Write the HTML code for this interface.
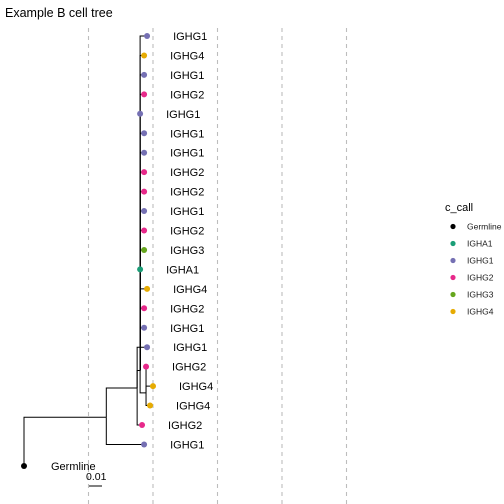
<!DOCTYPE html>
<html><head><meta charset="utf-8"><style>
body{margin:0;background:#fff}
svg{display:block;font-family:"Liberation Sans",Arial,sans-serif}
</style></head><body>
<svg id="chart" width="504" height="504" viewBox="0 0 504 504" xmlns="http://www.w3.org/2000/svg">
<text x="5" y="17" font-size="12.5" fill="#000">Example B cell tree</text>
<g id="grid"></g><g id="edges"></g><g id="tips"></g><g id="legend"></g>
<g>
<line x1="89" y1="486" x2="102" y2="486" stroke="#000" stroke-width="1"/>
<text x="86" y="480" font-size="10.5" fill="#000">0.01</text>
</g>
</svg>
<script>
// tip data (top to bottom)
const tipLabels=["IGHG1","IGHG4","IGHG1","IGHG2","IGHG1","IGHG1","IGHG1","IGHG2","IGHG2","IGHG1","IGHG2","IGHG3","IGHA1","IGHG4","IGHG2","IGHG1","IGHG1","IGHG2","IGHG4","IGHG4","IGHG2","IGHG1"];
const tipDepth=[0.0954,0.0931,0.0931,0.0931,0.0900,0.0931,0.0931,0.0931,0.0931,0.0931,0.0931,0.0931,0.0900,0.0954,0.0931,0.0931,0.0954,0.0946,0.1000,0.0977,0.0915,0.0931];
const tipParent=[3,3,3,3,3,3,3,3,3,3,3,3,3,3,3,3,2,4,4,4,2,1];
// internal nodes: 0 germline root
const nodeDepth=[0,0.0638,0.0877,0.0900,0.0946];
const nodeParent=[-1,0,1,2,3];
const nodeRow=[21.1,19.6,18.1,17.2,18.35];
const gridTicks=[0.05,0.1,0.15,0.2,0.25];
const legendLabels=["Germline","IGHA1","IGHG1","IGHG2","IGHG3","IGHG4"];
const legendColors=["#000000","#1b9e77","#7570b3","#e7298a","#66a61e","#e6ab02"];

const NS="http://www.w3.org/2000/svg";
const xs=d=>24+d*1290;
const rowY=i=>36+i*19.45;
function mk(tag,attrs,parent){const e=document.createElementNS(NS,tag);for(const k in attrs)e.setAttribute(k,attrs[k]);parent.appendChild(e);return e;}
const colorOf=l=>legendColors[legendLabels.indexOf(l)];
const grid=document.getElementById('grid'),edges=document.getElementById('edges'),tips=document.getElementById('tips'),leg=document.getElementById('legend');
gridTicks.forEach(t=>{const l=mk('line',{x1:xs(t),x2:xs(t),y1:28,y2:504,stroke:'#bdbdbd','stroke-width':1.1,'stroke-dasharray':'4,4'},grid);

});
const nodeY=nodeRow.map(rowY);
const germY=466;
nodeY[0]=germY;
function edge(px,py,cx,cy){const p=mk('path',{d:`M${px},${py}V${cy}H${cx}`,fill:'none',stroke:'#000','stroke-width':1},edges);

}
for(let n=1;n<nodeDepth.length;n++){const p=nodeParent[n];edge(xs(nodeDepth[p]),nodeY[p],xs(nodeDepth[n]),nodeY[n]);}
tipLabels.forEach((l,i)=>edge(xs(nodeDepth[tipParent[i]]),nodeY[tipParent[i]],xs(tipDepth[i]),rowY(i)));
// tips
tipLabels.forEach((l,i)=>{const x=xs(tipDepth[i]),y=rowY(i);
const c=mk('circle',{cx:x,cy:y,r:3,fill:colorOf(l)},tips);


const t=mk('text',{x:x+26,y:y+4,'font-size':11,fill:'#000'},tips);t.textContent=l;

});
const gc=mk('circle',{cx:24,cy:germY,r:3,fill:'#000'},tips);


const gt=mk('text',{x:51,y:germY+4,'font-size':11,fill:'#000'},tips);gt.textContent='Germline';


// legend
const lt=mk('text',{x:445,y:211,'font-size':11,fill:'#000'},leg);lt.textContent='c_call';


legendLabels.forEach((l,i)=>{const y=226.5+i*17;
const g=mk('g',{},leg);


mk('circle',{cx:453,cy:y,r:2.6,fill:legendColors[i]},g);
const t=mk('text',{x:467,y:y+3,'font-size':8.5,fill:'#1a1a1a'},g);t.textContent=l;});
</script>
</body></html>
